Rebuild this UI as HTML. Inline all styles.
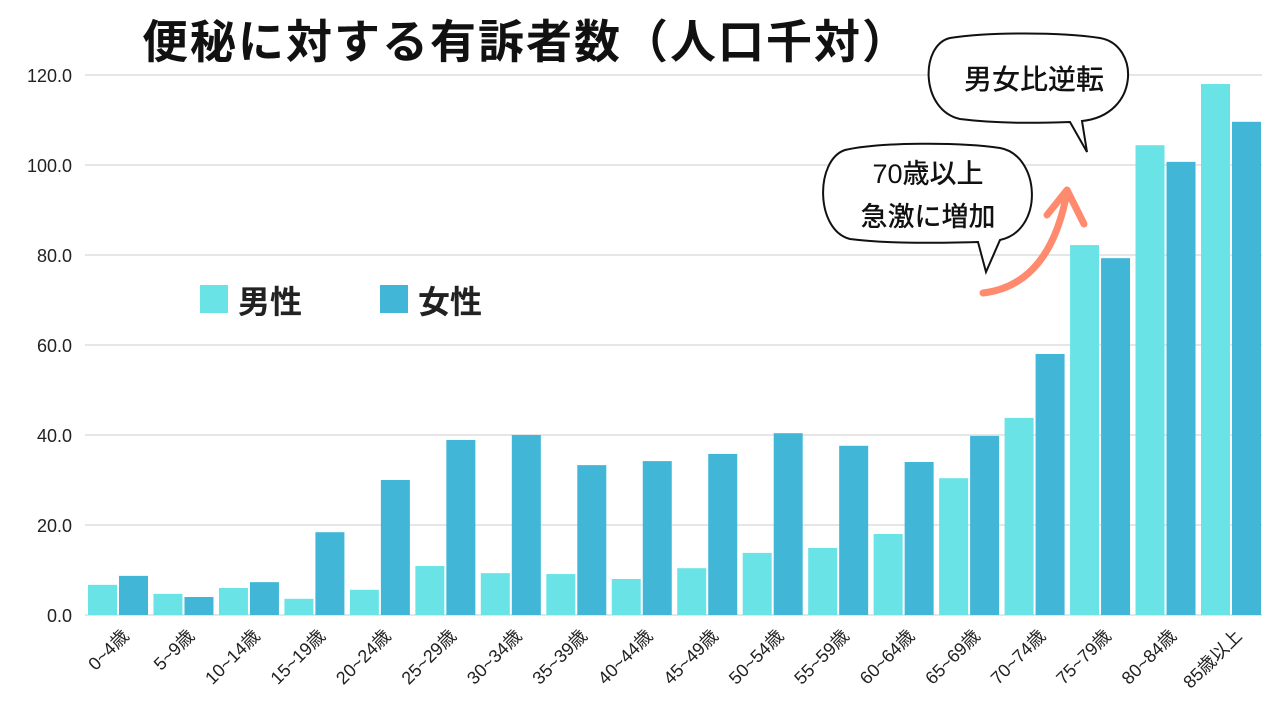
<!DOCTYPE html>
<html><head><meta charset="utf-8"><style>body{margin:0;background:#fff}svg{display:block;font-family:"Liberation Sans","Noto Sans CJK JP",sans-serif}</style></head><body>
<svg width="1280" height="720" viewBox="0 0 1280 720">
<text x="142" y="58" font-size="46" font-weight="bold" fill="#111" letter-spacing="2">便秘に対する有訴者数（人口千対）</text>
<g stroke="#cccccc" stroke-width="1">
<line x1="85" y1="75" x2="1262" y2="75"/><line x1="85" y1="165" x2="1262" y2="165"/><line x1="85" y1="255" x2="1262" y2="255"/><line x1="85" y1="345" x2="1262" y2="345"/><line x1="85" y1="435" x2="1262" y2="435"/><line x1="85" y1="525" x2="1262" y2="525"/><line x1="85" y1="615" x2="1262" y2="615"/>
</g>
<g font-size="18" fill="#222" text-anchor="end">
<text x="72" y="82">120.0</text><text x="72" y="172">100.0</text><text x="72" y="262">80.0</text><text x="72" y="352">60.0</text><text x="72" y="442">40.0</text><text x="72" y="532">20.0</text><text x="72" y="622">0.0</text>
</g>
<g id="bars"></g>
<g id="labels" font-size="18" fill="#222" text-anchor="end"></g>
<rect x="200" y="285" width="28" height="28" fill="#6ae3e6"/><text x="238" y="313" font-size="32" font-weight="bold" fill="#222">男性</text>
<rect x="380" y="285" width="28" height="28" fill="#41b6d6"/><text x="418" y="313" font-size="32" font-weight="bold" fill="#222">女性</text>
<path d="M1082,121 C1140,115 1140,45 1100,38 C1060,32 990,32 950,38 C920,45 920,110 960,119 C1000,124 1040,123 1070,122 L1087,152 Z" fill="#fff" stroke="#111" stroke-width="2"/>
<text x="1034" y="89" font-size="28" font-weight="500" text-anchor="middle" fill="#111">男女比逆転</text>
<path d="M1000,240 C1045,230 1040,155 1000,148 C960,142 880,142 845,150 C815,160 815,230 850,239 C890,244 940,243 978,242 L986,272 Z" fill="#fff" stroke="#111" stroke-width="2"/>
<text x="928" y="183" font-size="27" font-weight="500" text-anchor="middle" fill="#111">70歳以上</text>
<text x="928" y="226" font-size="27" font-weight="500" text-anchor="middle" fill="#111">急激に増加</text>
<path d="M983,293 Q1050,285 1067,192" fill="none" stroke="#ff8a6e" stroke-width="7" stroke-linecap="round"/>
<path d="M1047,215 L1067,190 L1084,224" fill="none" stroke="#ff8a6e" stroke-width="7" stroke-linecap="round" stroke-linejoin="round"/>
</svg>
<script>
var m=[6.7,4.7,6.0,3.6,5.6,10.9,9.3,9.1,8.0,10.4,13.8,14.9,18.0,30.4,43.8,82.2,104.4,118.0];
var f=[8.7,4.0,7.3,18.4,30.0,38.9,40.0,33.3,34.2,35.8,40.4,37.6,34.0,39.8,58.0,79.3,100.7,109.6];
var L=["0~4歳","5~9歳","10~14歳","15~19歳","20~24歳","25~29歳","30~34歳","35~39歳","40~44歳","45~49歳","50~54歳","55~59歳","60~64歳","65~69歳","70~74歳","75~79歳","80~84歳","85歳以上"];
var ns="http://www.w3.org/2000/svg",b=document.getElementById("bars"),lg=document.getElementById("labels");
function r(x,v,c){var e=document.createElementNS(ns,"rect");e.setAttribute("x",x);e.setAttribute("y",615-v*4.5);e.setAttribute("width",29);e.setAttribute("height",v*4.5);e.setAttribute("fill",c);b.appendChild(e);}
for(var i=0;i<18;i++){var x=88+i*65.47;r(x,m[i],"#6ae3e6");r(x+31,f[i],"#41b6d6");
var t=document.createElementNS(ns,"text");var cx=x+42,cy=637;t.setAttribute("x",cx);t.setAttribute("y",cy);t.setAttribute("transform","rotate(-45 "+cx+" "+cy+")");t.textContent=L[i];lg.appendChild(t);}
</script>
</body></html>
